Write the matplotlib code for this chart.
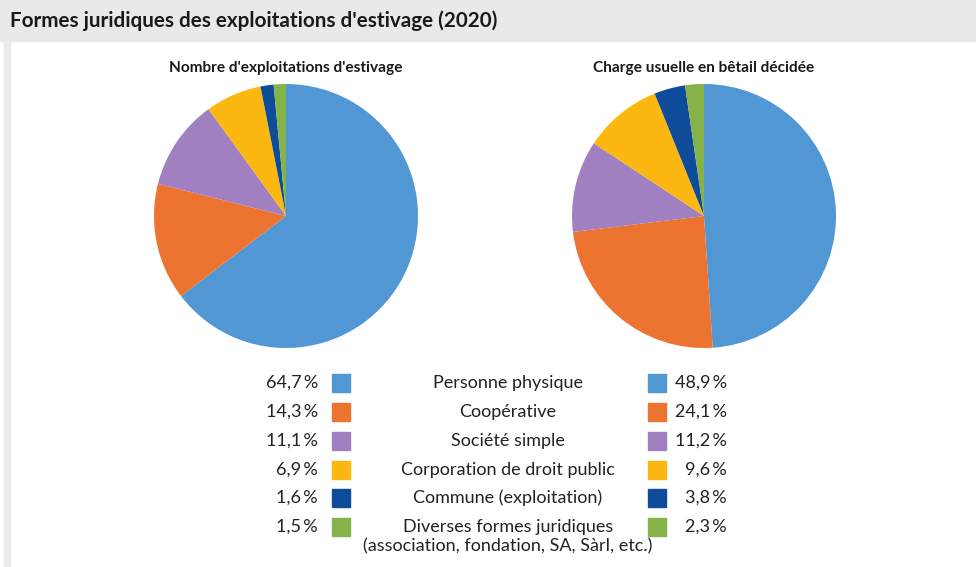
import matplotlib
matplotlib.use("Agg")
import matplotlib.pyplot as plt
from matplotlib.patches import Rectangle

W, H = 976, 567
categories = ["Personne physique", "Coopérative", "Société simple",
              "Corporation de droit public", "Commune (exploitation)",
              "Diverses formes juridiques\n(association, fondation, SA, Sàrl, etc.)"]
nombre = [64.7, 14.3, 11.1, 6.9, 1.6, 1.5]
charge = [48.9, 24.1, 11.2, 9.6, 3.8, 2.3]
nombre_labels = ["64,7\u2009%", "14,3\u2009%", "11,1\u2009%", "6,9\u2009%", "1,6\u2009%", "1,5\u2009%"]
charge_labels = ["48,9\u2009%", "24,1\u2009%", "11,2\u2009%", "9,6\u2009%", "3,8\u2009%", "2,3\u2009%"]
colors = ["#5197d3", "#ec7430", "#a080c0", "#fcb711", "#0e4c9a", "#86b24a"]

plt.rcParams['font.family'] = ["Lato", "DejaVu Sans"]

fig = plt.figure(figsize=(W/100, H/100), dpi=100)
fig.patch.set_facecolor("white")

def px(x, y):
    return x / W, 1 - y / H

# header band and left strip
fig.add_artist(Rectangle(px(0, 41), 1, 41/H, transform=fig.transFigure, color="#e9e9e9", zorder=0))
fig.add_artist(Rectangle(px(4, 567), 6/W, (567-41)/H, transform=fig.transFigure, color="#ebebeb", zorder=0))
fig.text(*px(10, 21), "Formes juridiques des exploitations d'estivage (2020)",
         fontsize=14.9, fontweight="bold", ha="left", va="center", color="#1a1a1a")

def pie(cx, cy, r, vals, title):
    ax = fig.add_axes([(cx - r)/W, (H - cy - r)/H, 2*r/W, 2*r/H])
    ax.pie(vals, colors=colors, startangle=90, counterclock=False,
           wedgeprops=dict(linewidth=0))
    ax.set_xlim(-1, 1); ax.set_ylim(-1, 1)
    ax.set_aspect("auto")
    ax.axis("off")
    fig.text(*px(cx, 68), title, fontsize=11.1, fontweight="bold",
             ha="center", va="center", color="#1a1a1a")

pie(286, 216, 132, nombre, "Nombre d'exploitations d'estivage")
pie(704, 216, 132, charge, "Charge usuelle en bêtail décidée")

rows = [383, 412, 441, 470, 498, 527]
fs = 13
for i, y in enumerate(rows):
    fig.text(*px(318, y), nombre_labels[i], fontsize=fs, ha="right", va="center", color="#222222")
    fig.add_artist(Rectangle(px(332, y + 9), 18/W, 18/H, transform=fig.transFigure,
                             color=colors[i]))
    fig.add_artist(Rectangle(px(648, y + 9), 18/W, 18/H, transform=fig.transFigure,
                             color=colors[i]))
    fig.text(*px(727, y), charge_labels[i], fontsize=fs, ha="right", va="center", color="#222222")
    if i < 5:
        fig.text(*px(508, y), categories[i], fontsize=fs, ha="center", va="center", color="#222222")
    else:
        fig.text(*px(508, y - 8), categories[i], fontsize=fs, ha="center", va="top",
                 color="#222222", linespacing=1.25)

fig.savefig("out.png", dpi=100)
